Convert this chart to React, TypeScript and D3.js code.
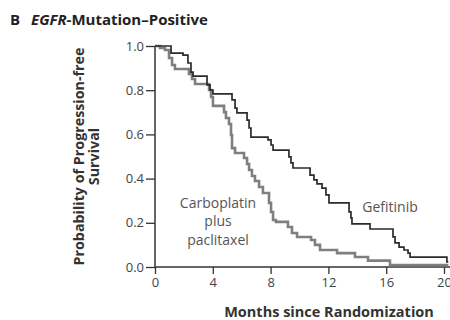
import { useEffect, useRef } from "react";
import * as d3 from "d3";

// Kaplan-Meier steps (months, survival after the drop)
const gefitinibMonths = [0, 1.11, 1.94, 2.28, 2.49, 2.63, 3.6, 3.81, 4.01, 5.33, 5.54, 5.67, 6.37, 6.51, 6.64, 7.82, 8.03, 8.17, 9.27, 9.41, 9.55, 10.73, 11.0, 11.21, 11.56, 11.83, 12.04, 13.43, 13.56, 13.63, 14.88, 16.47, 16.61, 16.89, 17.23, 17.51, 17.65, 20.2];
const gefitinibSurvival = [1.0, 0.968, 0.959, 0.923, 0.882, 0.864, 0.824, 0.801, 0.783, 0.756, 0.719, 0.697, 0.665, 0.629, 0.588, 0.575, 0.552, 0.529, 0.498, 0.471, 0.448, 0.416, 0.394, 0.376, 0.357, 0.326, 0.29, 0.249, 0.222, 0.195, 0.172, 0.136, 0.109, 0.09, 0.077, 0.063, 0.045, 0.023];

const carboMonths = [0, 0.35, 0.69, 0.97, 1.18, 1.38, 2.35, 2.56, 2.77, 3.74, 3.88, 4.01, 4.78, 4.91, 5.12, 5.26, 5.33, 5.54, 6.16, 6.37, 6.51, 6.71, 6.92, 7.2, 7.47, 7.89, 8.03, 8.17, 8.37, 9.2, 9.48, 9.83, 10.8, 11.07, 11.42, 12.6, 13.84, 14.74, 16.26];
const carboSurvival = [1.0, 0.991, 0.982, 0.946, 0.914, 0.896, 0.873, 0.851, 0.828, 0.801, 0.769, 0.729, 0.701, 0.674, 0.647, 0.597, 0.538, 0.516, 0.493, 0.466, 0.439, 0.412, 0.389, 0.362, 0.335, 0.29, 0.249, 0.213, 0.204, 0.181, 0.154, 0.136, 0.122, 0.1, 0.077, 0.063, 0.045, 0.029, 0.009];

const xTicks = [0, 4, 8, 12, 16, 20];
const yTicks = [0, 0.2, 0.4, 0.6, 0.8, 1.0];
const carboLabelLines = ["Carboplatin", "plus", "paclitaxel"];
const followUpEnd = 20.3;

const FONT = "'Open Sans', sans-serif";

export default function App() {
  const ref = useRef<SVGSVGElement>(null);
  const width = 450;
  const height = 320;

  useEffect(() => {
    const svg = d3.select(ref.current);
    svg.selectAll("*").remove();

    const x = d3.scaleLinear().domain([0, 20]).range([155, 444]);
    const y = d3.scaleLinear().domain([0, 1]).range([267, 46]);

    /* -------- title -------- */
    const title = svg
      .append("text")
      .attr("x", 10)
      .attr("y", 25)
      .attr("font-family", FONT)
      .attr("font-size", 15)
      .attr("font-weight", 700)
      .attr("fill", "#222");
    title.append("tspan").text("B");
    title.append("tspan").attr("x", 31).attr("font-style", "italic").text("EGFR");
    title.append("tspan").text("-Mutation\u2013Positive");

    /* -------- axes -------- */
    const axisColor = "#333";
    const yAxis = svg
      .append("g")
      .attr("transform", `translate(${x(0)},0)`)
      .call(d3.axisLeft(y).tickValues(yTicks).tickSize(9).tickPadding(2).tickFormat(d3.format(".1f")));
    const xAxis = svg
      .append("g")
      .attr("transform", `translate(0,${y(0)})`)
      .call(d3.axisBottom(x).tickValues(xTicks).tickSize(7).tickPadding(4).tickFormat(d3.format("d")));

    [yAxis, xAxis].forEach((ax) => {
      ax.select(".domain").remove();
      ax.selectAll("line").attr("stroke", axisColor).attr("stroke-width", 1.3);
      ax.selectAll("text")
        .attr("font-family", FONT)
        .attr("font-size", 13)
        .attr("fill", "#444");
    });

    svg
      .append("line")
      .attr("x1", x(0))
      .attr("x2", x(0))
      .attr("y1", y(1))
      .attr("y2", y(0))
      .attr("stroke", axisColor)
      .attr("stroke-width", 1.5);
    svg
      .append("line")
      .attr("x1", x(0))
      .attr("x2", width)
      .attr("y1", y(0))
      .attr("y2", y(0))
      .attr("stroke", axisColor)
      .attr("stroke-width", 1.5);

    /* -------- curves -------- */
    const line = d3
      .line<[number, number]>()
      .x((d) => x(d[0]))
      .y((d) => y(d[1]))
      .curve(d3.curveStepAfter);

    const toPoints = (months: number[], surv: number[]): [number, number][] => {
      const pts = months.map((m, i) => [m, surv[i]] as [number, number]);
      pts.push([followUpEnd, surv[surv.length - 1]]);
      return pts;
    };

    svg
      .append("path")
      .attr("d", line(toPoints(carboMonths, carboSurvival)))
      .attr("fill", "none")
      .attr("stroke", "#7f7f7f")
      .attr("stroke-width", 2.6);

    svg
      .append("path")
      .attr("d", line(toPoints(gefitinibMonths, gefitinibSurvival)))
      .attr("fill", "none")
      .attr("stroke", "#2b2b2b")
      .attr("stroke-width", 1.7);

    /* -------- curve labels -------- */
    svg
      .append("text")
      .attr("x", 390)
      .attr("y", 212)
      .attr("text-anchor", "middle")
      .attr("font-family", FONT)
      .attr("font-size", 14)
      .attr("fill", "#555")
      .text("Gefitinib");

    const carboLabel = svg
      .append("text")
      .attr("text-anchor", "middle")
      .attr("font-family", FONT)
      .attr("font-size", 14)
      .attr("fill", "#555");
    carboLabelLines.forEach((t, i) => {
      carboLabel.append("tspan").attr("x", 218).attr("y", 207.5 + i * 18.5).text(t);
    });

    /* -------- axis titles -------- */
    svg
      .append("text")
      .attr("x", 329)
      .attr("y", 317)
      .attr("text-anchor", "middle")
      .attr("font-family", FONT)
      .attr("font-size", 14.5)
      .attr("font-weight", 700)
      .attr("fill", "#333")
      .text("Months since Randomization");

    const yTitle = svg
      .append("text")
      .attr("transform", "rotate(-90)")
      .attr("text-anchor", "middle")
      .attr("font-family", FONT)
      .attr("font-size", 14.3)
      .attr("font-weight", 700)
      .attr("fill", "#333");
    yTitle.append("tspan").attr("x", -156.5).attr("y", 84).text("Probability of Progression-free");
    yTitle.append("tspan").attr("x", -156.5).attr("y", 99).text("Survival");
  }, []);

  return (
    <>
      <style>{"body{margin:0}"}</style>
      <svg ref={ref} width={width} height={height} style={{ display: "block", background: "#fff" }} />
    </>
  );
}
